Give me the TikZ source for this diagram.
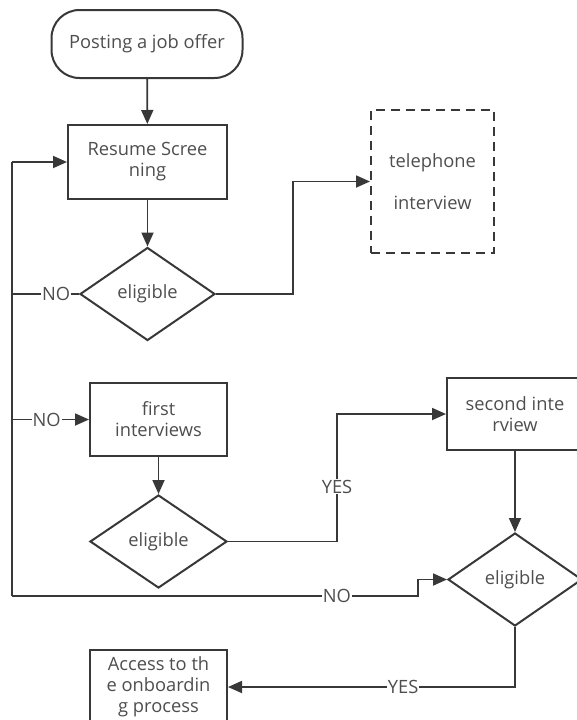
\documentclass[tikz,border=0pt]{standalone}
\usepackage{fontspec}
\setmainfont{Open Sans}
\usetikzlibrary{arrows.meta,shapes.geometric}
\definecolor{edgec}{HTML}{383838}
\definecolor{txtc}{HTML}{4E4E4E}
\begin{document}
\begin{tikzpicture}[x=1pt,y=-1pt,
  every node/.style={text=txtc,font=\fontsize{18.3}{21}\selectfont},
  box/.style={draw=edgec,line width=2pt,rectangle,inner sep=0pt,align=center},
  startbox/.style={box,rounded corners=28pt},
  dashbox/.style={box,dash pattern=on 9pt off 6pt},
  decision/.style={draw=edgec,line width=2pt,diamond,inner sep=0pt,aspect=1.45},
  flow/.style={draw=edgec,line width=1.8pt,-{Triangle[length=14pt,width=12pt]}},
  link/.style={draw=edgec,line width=1.8pt},
  lbl/.style={fill=white,inner sep=1pt}]
\useasboundingbox (0,0) rectangle (577,720);

% process nodes
\node[startbox,minimum width=191pt,minimum height=68pt] (start) at (147,44) {Posting a job offer};
\node[box,minimum width=159pt,minimum height=74pt] (resume) at (147.5,162) {Resume Scree\\ning};
\node[decision,minimum width=135pt,minimum height=93pt] (d1) at (147.5,294) {eligible};
\node[dashbox,minimum width=123pt,minimum height=143pt] (tel) at (432.5,181.5) {telephone\\[21pt]interview};
\node[box,minimum width=137pt,minimum height=73pt] (first) at (158.5,419.5) {first\\interviews};
\node[decision,minimum width=137pt,minimum height=93pt] (d2) at (158.5,541.5) {eligible};
\node[box,minimum width=136pt,minimum height=72pt] (second) at (515,414) {second inte\\rview};
\node[decision,minimum width=134pt,minimum height=93pt] (d3) at (515,579.5) {eligible};
\node[box,minimum width=137pt,minimum height=74pt] (access) at (158.5,687) {Access to th\\e onboardin\\g process};

% routing points
\coordinate (trunkTop) at (12,162);
\coordinate (trunkBot) at (12,596);
\coordinate (j1) at (293,0);
\coordinate (j2) at (337,0);
\coordinate (j3) at (418,0);

% main flow
\draw[flow] (start) -- (resume);
\draw[flow] (resume) -- (d1);
\draw[flow] (d1.east) -- (d1.east -| j1) -- (tel.west -| j1) -- (tel.west);
\draw[flow] (first) -- (d2);
\draw[flow] (d2.east) -- (d2.east -| j2) -- node[lbl,pos=0.43]{YES} (second.west -| j2) -- (second.west);
\draw[flow] (second) -- (d3);
\draw[flow] (d3.south) -- (d3.south |- access.east) -- node[lbl,pos=0.39]{YES} (access.east);

% rejection loop on the left
\draw[link] (d1.west) -- node[lbl,pos=0.34]{NO} (d1.west -| trunkTop);
\draw[link] (trunkTop) -- (trunkBot);
\draw[flow] (trunkTop) -- (resume.west);
\draw[flow] (first.west -| trunkTop) -- node[lbl,pos=0.45]{NO} (first.west);
\draw[flow] (trunkBot) -- node[lbl,pos=0.8]{NO} (trunkBot -| j3) -- (d3.west -| j3) -- (d3.west);
\end{tikzpicture}
\end{document}
